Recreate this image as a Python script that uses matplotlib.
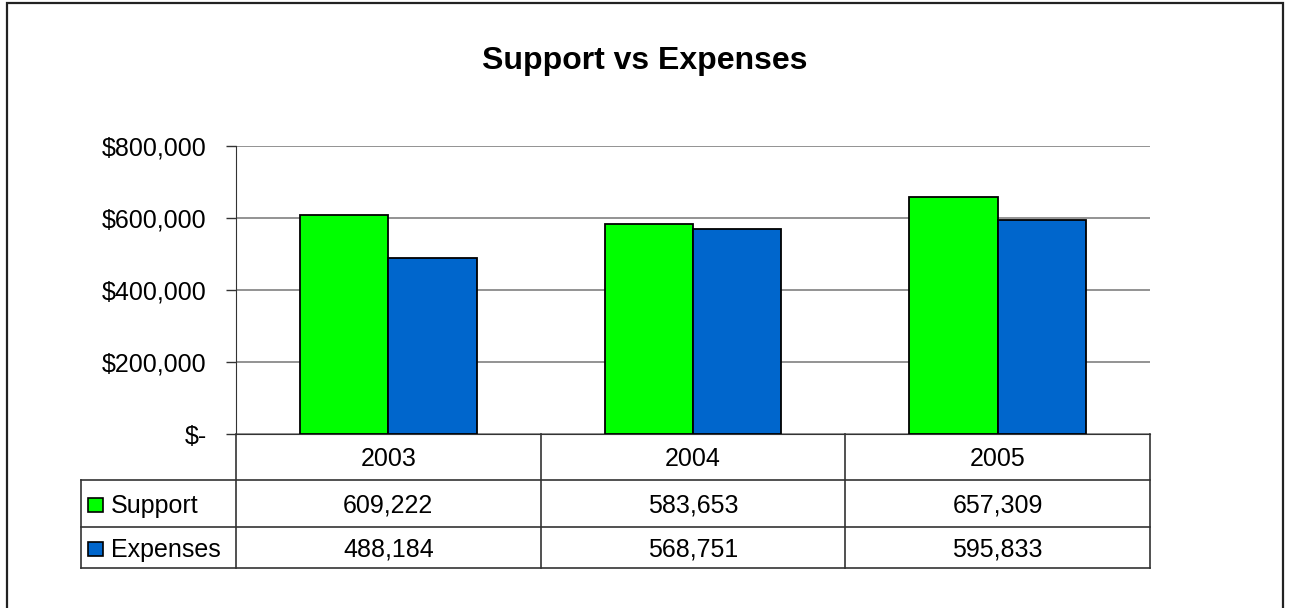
import matplotlib.pyplot as plt
from matplotlib.patches import Rectangle
from matplotlib.lines import Line2D
from matplotlib.ticker import FuncFormatter

plt.rcParams['font.family'] = ['Liberation Sans', 'DejaVu Sans']

# --- data ---
years = ['2003', '2004', '2005']
support = [609222, 583653, 657309]
expenses = [488184, 568751, 595833]
series_names = ['Support', 'Expenses']
colors = ['#00FF00', '#0066CC']
yticks = [0, 200000, 400000, 600000, 800000]

W, H = 1290, 608
fig = plt.figure(figsize=(W / 100, H / 100), dpi=100)
fs = 18


def fx(x):
    return x / W


def fy(y):
    return 1 - y / H


# outer chart border
fig.add_artist(Rectangle((fx(7), fy(640)), fx(1283) - fx(7), fy(3) - fy(640),
                         transform=fig.transFigure, fill=False, lw=1.6, ec='#222222'))

# --- plot area ---
L, R, T, B = 236, 1150, 146, 434
ax = fig.add_axes([fx(L), fy(B), fx(R) - fx(L), fy(T) - fy(B)])
ax.set_xlim(-0.5, len(years) - 0.5)
ax.set_ylim(0, 800000)

x = range(len(years))
bw = 0.29
ax.bar([i - bw / 2 for i in x], support, width=bw, color=colors[0], ec='black', lw=1.3, zorder=3)
ax.bar([i + bw / 2 for i in x], expenses, width=bw, color=colors[1], ec='black', lw=1.3, zorder=3)

ax.set_yticks(yticks)
ax.yaxis.set_major_formatter(FuncFormatter(lambda v, p: '$-' if v == 0 else f'${v:,.0f}'))
ax.tick_params(axis='y', length=7, width=1, color='#333333', labelsize=fs, pad=14)
ax.set_xticks([])
ax.grid(axis='y', color='#808080', lw=1.2, zorder=0)
for s in ['top', 'right']:
    ax.spines[s].set_visible(False)
ax.spines['left'].set_color('#333333')
ax.spines['bottom'].set_color('#333333')

fig.text(0.5, fy(57), 'Support vs Expenses', ha='center', va='center_baseline',
         fontsize=23, fontweight='bold')

# --- data table ---
lc = '#333333'
cols = [L + (R - L) * i / len(years) for i in range(len(years) + 1)]
rows = [434, 480, 527, 568]
tl = 81


def hline(x0, x1, y):
    fig.add_artist(Line2D([fx(x0), fx(x1)], [fy(y), fy(y)], transform=fig.transFigure, color=lc, lw=1.2))


def vline(x, y0, y1):
    fig.add_artist(Line2D([fx(x), fx(x)], [fy(y0), fy(y1)], transform=fig.transFigure, color=lc, lw=1.2))


for y in rows[1:]:
    hline(tl, R, y)
for c in cols:
    vline(c, rows[0], rows[-1])
vline(tl, rows[1], rows[-1])

for i, yr in enumerate(years):
    cx = (cols[i] + cols[i + 1]) / 2
    fig.text(fx(cx), fy((rows[0] + rows[1]) / 2), yr, ha='center', va='center_baseline', fontsize=fs)
    for r, vals in enumerate([support, expenses]):
        fig.text(fx(cx), fy((rows[r + 1] + rows[r + 2]) / 2), f'{vals[i]:,}',
                 ha='center', va='center_baseline', fontsize=fs)

for r, name in enumerate(series_names):
    cy = (rows[r + 1] + rows[r + 2]) / 2
    fig.add_artist(Rectangle((fx(88), fy(cy + 8)), fx(15), fy(0) - fy(14),
                             transform=fig.transFigure, fc=colors[r], ec='black', lw=1.2))
    fig.text(fx(111), fy(cy), name, ha='left', va='center_baseline', fontsize=fs)

fig.savefig('out.png', dpi=100)
